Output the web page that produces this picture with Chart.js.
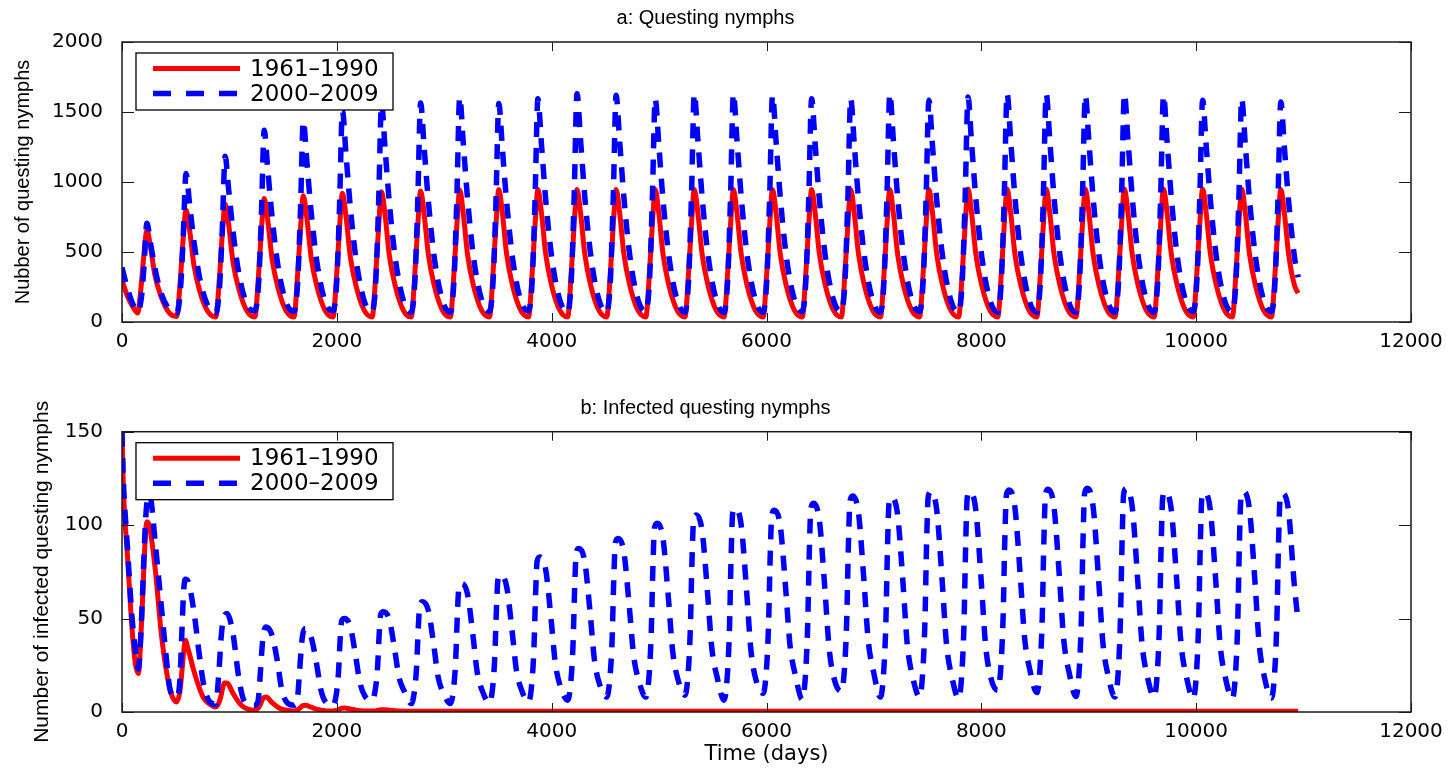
<!DOCTYPE html>
<html><head><meta charset="utf-8">
<script src="https://cdn.jsdelivr.net/npm/chart.js@4.4.1/dist/chart.umd.min.js"></script>
<style>
html,body{margin:0;padding:0;background:#fff;}
#wrapA{position:absolute;left:0;top:0;width:1454px;height:384px;}
#wrapB{position:absolute;left:0;top:384px;width:1454px;height:384px;}
canvas{display:block;}
</style></head><body>
<div id="wrapA"><canvas id="chartA"></canvas></div>
<div id="wrapB"><canvas id="chartB"></canvas></div>
<script>
// ---------- data ----------
const seriesNames = ['1961\u20131990', '2000\u20132009'];
const xTicks = [0, 2000, 4000, 6000, 8000, 10000, 12000];
const yTicksA = [0, 500, 1000, 1500, 2000];
const yTicksB = [0, 50, 100, 150];

// panel a: questing nymphs (day, value)
const dayA = [
  0, 50, 100,
  145,180,205,232,265,305,360,435,
  509,544,569,596,629,669,724,799,
  873,908,933,960,993,1033,1088,1163,
  1237,1272,1297,1324,1357,1397,1452,1527,
  1601,1636,1661,1688,1721,1761,1816,1891,
  1965,2000,2025,2052,2085,2125,2180,2255,
  2329,2364,2389,2416,2449,2489,2544,2619,
  2693,2728,2753,2780,2813,2853,2908,2983,
  3057,3092,3117,3144,3177,3217,3272,3347,
  3421,3456,3481,3508,3541,3581,3636,3711,
  3785,3820,3845,3872,3905,3945,4000,4075,
  4149,4184,4209,4236,4269,4309,4364,4439,
  4513,4548,4573,4600,4633,4673,4728,4803,
  4877,4912,4937,4964,4997,5037,5092,5167,
  5241,5276,5301,5328,5361,5401,5456,5531,
  5605,5640,5665,5692,5725,5765,5820,5895,
  5969,6004,6029,6056,6089,6129,6184,6259,
  6333,6368,6393,6420,6453,6493,6548,6623,
  6697,6732,6757,6784,6817,6857,6912,6987,
  7061,7096,7121,7148,7181,7221,7276,7351,
  7425,7460,7485,7512,7545,7585,7640,7715,
  7789,7824,7849,7876,7909,7949,8004,8079,
  8153,8188,8213,8240,8273,8313,8368,8443,
  8517,8552,8577,8604,8637,8677,8732,8807,
  8881,8916,8941,8968,9001,9041,9096,9171,
  9245,9280,9305,9332,9365,9405,9460,9535,
  9609,9644,9669,9696,9729,9769,9824,9899,
  9973,10008,10033,10060,10093,10133,10188,10263,
  10337,10372,10397,10424,10457,10497,10552,10627,
  10701,10736,10761,10788,10821,10861,10916,
  10950
];
const coolA = [
  300, 185, 110,
  64,270,490,657,540,340,190,70,
  40,310,590,800,660,410,220,75,
  36,325,620,843,695,430,235,78,
  36,345,645,883,728,450,245,80,
  36,350,660,902,743,460,250,82,
  36,358,672,919,757,468,254,83,
  36,362,680,930,766,474,257,84,
  36,365,683,935,770,477,258,84,
  36,368,688,942,776,480,259,85,
  36,370,690,947,780,482,260,85,
  36,370,690,947,780,482,260,85,
  36,370,690,947,780,482,260,85,
  36,370,690,947,780,482,260,85,
  36,370,690,947,780,482,260,85,
  36,370,690,947,780,482,260,85,
  36,370,690,947,780,482,260,85,
  36,370,690,947,780,482,260,85,
  36,370,690,947,780,482,260,85,
  36,370,690,947,780,482,260,85,
  36,370,690,947,780,482,260,85,
  36,370,690,947,780,482,260,85,
  36,371,692,950,782,483,261,85,
  36,371,692,950,782,483,261,85,
  36,371,692,950,782,483,261,85,
  36,371,692,950,782,483,261,85,
  36,371,692,950,782,483,261,85,
  36,371,692,950,782,483,261,85,
  36,371,692,950,782,483,261,85,
  36,371,692,950,782,483,261,85,
  36,370,690,947,780,482,260,
  206
];
const warmA = [
  390, 240, 130,
  76,170,400,705,565,390,215,95,
  64,230,590,1061,845,580,310,115,
  64,250,650,1184,945,650,345,125,
  80,280,750,1369,1090,750,400,140,
  76,290,785,1436,1145,785,420,145,
  80,300,820,1510,1200,825,440,150,
  76,310,850,1560,1240,850,455,155,
  70,310,850,1564,1245,855,455,155,
  70,318,875,1607,1280,880,465,160,
  76,310,850,1560,1240,855,455,155,
  80,315,870,1595,1270,870,465,158,
  70,322,885,1631,1300,890,475,160,
  70,320,880,1619,1290,885,470,160,
  75,315,870,1595,1270,870,465,158,
  70,322,885,1631,1300,890,475,160,
  70,322,885,1631,1300,890,475,160,
  70,320,880,1619,1290,885,470,160,
  75,315,870,1595,1270,870,465,158,
  75,315,870,1595,1270,870,465,158,
  70,322,885,1631,1300,890,475,160,
  75,314,865,1584,1262,866,463,157,
  70,318,875,1607,1280,880,468,159,
  70,322,885,1631,1300,890,475,160,
  70,322,885,1631,1300,890,475,160,
  70,320,880,1619,1290,885,470,160,
  70,322,885,1631,1300,890,475,160,
  70,320,880,1619,1290,885,470,160,
  75,314,865,1584,1262,866,463,157,
  75,315,870,1595,1270,870,465,158,
  75,312,860,1571,1250,860,460,
  320
];

// panel b: infected questing nymphs (day, value)
const dayB = [
  0, 12, 25, 46, 93, 124,
  152,182,202,217,232,257,312,362,402,452,
  509,539,559,574,589,614,669,719,759,809,
  873,903,923,938,953,978,1033,1083,1123,1173,
  1237,1267,1287,1302,1317,1342,1397,1447,1487,1537,
  1601,1631,1651,1666,1681,1706,1761,1811,1851,1901,
  1965,1995,2015,2030,2045,2070,2125,2175,2215,2265,
  2329,2359,2379,2394,2409,2434,2489,2539,2579,2629,
  2693,2723,2743,2758,2773,2798,2853,2903,2943,2993,
  3057,3087,3107,3122,3137,3162,3217,3267,3307,3357,
  3421,3451,3471,3486,3501,3526,3581,3631,3671,3721,
  3785,3815,3835,3850,3865,3890,3945,3995,4035,4085,
  4149,4179,4199,4214,4229,4254,4309,4359,4399,4449,
  4513,4543,4563,4578,4593,4618,4673,4723,4763,4813,
  4877,4907,4927,4942,4957,4982,5037,5087,5127,5177,
  5241,5271,5291,5306,5321,5346,5401,5451,5491,5541,
  5605,5635,5655,5670,5685,5710,5765,5815,5855,5905,
  5969,5999,6019,6034,6049,6074,6129,6179,6219,6269,
  6333,6363,6383,6398,6413,6438,6493,6543,6583,6633,
  6697,6727,6747,6762,6777,6802,6857,6907,6947,6997,
  7061,7091,7111,7126,7141,7166,7221,7271,7311,7361,
  7425,7455,7475,7490,7505,7530,7585,7635,7675,7725,
  7789,7819,7839,7854,7869,7894,7949,7999,8039,8089,
  8153,8183,8203,8218,8233,8258,8313,8363,8403,8453,
  8517,8547,8567,8582,8597,8622,8677,8727,8767,8817,
  8881,8911,8931,8946,8961,8986,9041,9091,9131,9181,
  9245,9275,9295,9310,9325,9350,9405,9455,9495,9545,
  9609,9639,9659,9674,9689,9714,9769,9819,9859,9909,
  9973,10003,10023,10038,10053,10078,10133,10183,10223,10273,
  10337,10367,10387,10402,10417,10442,10497,10547,10587,10637,
  10701,10731,10751,10766,10781,10806,10861,10911,
  10950
];
const coolB = [
  150, 122, 105, 88, 45, 26,
  20.6,48,75,93.8,101.8,99,75,44,26,11,
  5.4,11,22.5,32,38.4,34,22,13,7.5,4.5,
  2.7,5,9,13,15.5,15.5,10,5.5,3,1.5,
  0.9,2,4,6,7.5,8,5,2.7,1.5,0.9,
  0.6,1,1.8,2.6,3.3,3.6,2.6,1.5,0.9,0.6,
  0.5,0.8,1.2,1.6,2.0,2.1,1.6,1.0,0.7,0.5,
  0.5,0.6,0.8,1.0,1.2,1.2,1.0,0.7,0.5,0.45,
  0.45,0.45,0.45,0.45,0.45,0.45,0.45,0.45,0.45,0.45,
  0.45,0.45,0.45,0.45,0.45,0.45,0.45,0.45,0.45,0.45,
  0.45,0.45,0.45,0.45,0.45,0.45,0.45,0.45,0.45,0.45,
  0.45,0.45,0.45,0.45,0.45,0.45,0.45,0.45,0.45,0.45,
  0.45,0.45,0.45,0.45,0.45,0.45,0.45,0.45,0.45,0.45,
  0.45,0.45,0.45,0.45,0.45,0.45,0.45,0.45,0.45,0.45,
  0.4,0.4,0.4,0.4,0.4,0.4,0.4,0.4,0.4,0.4,
  0.4,0.4,0.4,0.4,0.4,0.4,0.4,0.4,0.4,0.4,
  0.4,0.4,0.4,0.4,0.4,0.4,0.4,0.4,0.4,0.4,
  0.4,0.4,0.4,0.4,0.4,0.4,0.4,0.4,0.4,0.4,
  0.4,0.4,0.4,0.4,0.4,0.4,0.4,0.4,0.4,0.4,
  0.4,0.4,0.4,0.4,0.4,0.4,0.4,0.4,0.4,0.4,
  0.4,0.4,0.4,0.4,0.4,0.4,0.4,0.4,0.4,0.4,
  0.4,0.4,0.4,0.4,0.4,0.4,0.4,0.4,0.4,0.4,
  0.4,0.4,0.4,0.4,0.4,0.4,0.4,0.4,0.4,0.4,
  0.4,0.4,0.4,0.4,0.4,0.4,0.4,0.4,0.4,0.4,
  0.4,0.4,0.4,0.4,0.4,0.4,0.4,0.4,0.4,0.4,
  0.4,0.4,0.4,0.4,0.4,0.4,0.4,0.4,0.4,0.4,
  0.4,0.4,0.4,0.4,0.4,0.4,0.4,0.4,0.4,0.4,
  0.4,0.4,0.4,0.4,0.4,0.4,0.4,0.4,0.4,0.4,
  0.4,0.4,0.4,0.4,0.4,0.4,0.4,0.4,0.4,0.4,
  0.4,0.4,0.4,0.4,0.4,0.4,0.4,0.4,0.4,0.4,
  0.4,0.4,0.4,0.4,0.4,0.4,0.4,0.4,
  0.4
];
const warmB = [
  150, 125, 110, 92, 51, 33,
  23,50,80,100,112,116,89,59,35,11,
  8,17,45,65,71,70,54,31,15,6,
  4,22,40,48,51.5,52.7,42,20,8,4,
  3.6,6,20,33,42,45.5,41,27,12,5,
  3.6,6,20,32,41,44.7,40,26,12,5,
  3.6,9.4,20.7,37.9,48.7,50,45.8,30,15.7,8.2,
  6.3,12.3,23.8,41.3,52.3,53.6,49.3,33.2,18.6,11,
  4.5,11.4,24.6,44.8,57.5,59,54.1,35.5,18.7,9.9,
  4.5,12.6,28.2,52.0,67.1,68.8,63.0,41.0,21.3,10.9,
  4.8,13.4,30.1,55.4,71.4,73.3,67.1,43.7,22.7,11.6,
  5.4,15.2,34.0,62.7,80.9,83,76.0,49.5,25.7,13.1,
  6.3,16.5,36.3,66.3,85.3,87.5,80.2,52.4,27.5,14.3,
  8,18.7,39.3,70.7,90.6,92.9,85.3,56.2,30.2,16.4,
  8,19.7,42.3,76.7,98.5,101,92.6,60.8,32.3,17.2,
  9,21.1,44.6,80.2,102.8,105.4,96.7,63.8,34.2,18.5,
  6.3,19.2,44.2,82.2,106.2,109,99.8,64.6,33.1,16.5,
  10,22.3,46.2,82.4,105.4,108,99.2,65.7,35.6,19.7,
  6.7,19.9,45.4,84.3,108.9,111.7,102.2,66.3,34.1,17.1,
  11,24.2,49.6,88.3,112.8,115.6,106.2,70.4,38.3,21.4,
  8,21.5,47.4,87.0,112.0,114.9,105.3,68.7,35.9,18.6,
  8,21.8,48.6,89.2,114.9,117.9,108.0,70.4,36.7,18.9,
  7.2,21.1,48.0,89.0,114.9,117.9,107.9,70.1,36.1,18.2,
  11.6,25.1,51.2,90.8,115.9,118.8,109.2,72.5,39.6,22.2,
  10.4,24.1,50.5,90.8,116.3,119.2,109.4,72.2,38.8,21.2,
  8.3,22.3,49.4,90.6,116.7,119.7,109.7,71.6,37.4,19.3,
  8,22.1,49.2,90.5,116.7,119.7,109.6,71.4,37.2,19.1,
  8,21.8,48.6,89.2,114.9,117.9,108.0,70.4,36.7,18.9,
  7.2,21.1,47.9,88.6,114.4,117.4,107.5,69.8,36.0,18.1,
  7.2,21.1,48.0,89.0,114.9,117.9,107.9,70.1,36.1,18.2,
  7.5,21.3,47.9,88.4,114.0,117,107.1,69.7,
  47.9
];

// ---------- fonts ----------
const labelFamily = "'Liberation Sans', Arial, sans-serif";
const tickFamily = "'DejaVu Sans', Verdana, sans-serif";

// ---------- plugins ----------
const frameTicks = {
  id: 'frameTicks',
  afterDatasetsDraw(chart) {
    const {ctx, chartArea: a} = chart;
    const x = chart.scales.x, y = chart.scales.y;
    ctx.save();
    ctx.strokeStyle = '#1a1a1a';
    ctx.lineWidth = 1;
    ctx.setLineDash([]);
    ctx.beginPath();
    x.ticks.forEach(t => {
      const px = Math.round(x.getPixelForValue(t.value)) + 0.5;
      ctx.moveTo(px, a.bottom); ctx.lineTo(px, a.bottom - 9);
      ctx.moveTo(px, a.top); ctx.lineTo(px, a.top + 9);
    });
    y.ticks.forEach(t => {
      const py = Math.round(y.getPixelForValue(t.value)) + 0.5;
      ctx.moveTo(a.left, py); ctx.lineTo(a.left + 12, py);
      ctx.moveTo(a.right, py); ctx.lineTo(a.right - 12, py);
    });
    ctx.stroke();
    ctx.lineWidth = 1.5;
    ctx.strokeRect(a.left, a.top, a.right - a.left, a.bottom - a.top);
    ctx.restore();
  }
};
const boxLegend = {
  id: 'boxLegend',
  afterDraw(chart) {
    const {ctx, chartArea: a} = chart;
    const bx = a.left + 14, by = a.top + 11, bw = 257, bh = 57;
    ctx.save();
    ctx.fillStyle = '#fff';
    ctx.fillRect(bx, by, bw, bh);
    ctx.strokeStyle = '#000';
    ctx.lineWidth = 1.3;
    ctx.setLineDash([]);
    ctx.strokeRect(bx, by, bw, bh);
    chart.data.datasets.forEach((ds, i) => {
      const yy = by + 15.6 + i * 25;
      ctx.strokeStyle = ds.borderColor;
      ctx.lineWidth = ds.borderWidth;
      ctx.lineCap = 'butt';
      ctx.setLineDash(ds.borderDash ? [18, 15] : []);
      ctx.beginPath();
      ctx.moveTo(bx + 17, yy);
      ctx.lineTo(bx + (ds.borderDash ? 101 : 104), yy);
      ctx.stroke();
      ctx.setLineDash([]);
      ctx.fillStyle = '#000';
      ctx.font = '23px ' + tickFamily;
      ctx.textBaseline = 'middle';
      ctx.textAlign = 'left';
      ctx.fillText(ds.label, bx + 114, yy + 1);
    });
    ctx.restore();
  }
};

function pts(days, vals) { return days.map((d, i) => ({x: d, y: vals[i]})); }

function makeChart(id, cfg) {
  const titleSize = 20;
  const titleLH = titleSize * 1.2;
  const tTop = cfg.titleCenter - titleLH / 2;
  const tBottom = cfg.areaTop - tTop - titleLH;
  const ySize = cfg.ySize;
  const yLH = ySize * 1.2;
  return new Chart(document.getElementById(id), {
    type: 'line',
    data: {
      datasets: [
        {label: seriesNames[0], data: pts(cfg.days, cfg.cool), borderColor: '#ff0000', borderWidth: 5,
         pointRadius: 0, cubicInterpolationMode: 'monotone', order: 1, clip: 0, fill: false, borderJoinStyle: 'round'},
        {label: seriesNames[1], data: pts(cfg.days, cfg.warm), borderColor: '#0000ff', borderWidth: 5.5,
         borderDash: [15, 11], pointRadius: 0, cubicInterpolationMode: 'monotone', order: 0, clip: 0, fill: false, borderCapStyle: 'butt'}
      ]
    },
    options: {
      responsive: true, maintainAspectRatio: false, animation: false, devicePixelRatio: 1,
      layout: {padding: {left: 0, right: 43, top: 0, bottom: 0}},
      plugins: {
        legend: {display: false},
        tooltip: {enabled: false},
        title: {display: true, text: cfg.title, color: '#000',
                font: {family: labelFamily, size: titleSize, weight: 'normal'},
                padding: {top: tTop, bottom: tBottom}}
      },
      scales: {
        x: {
          type: 'linear', min: 0, max: 12000,
          grid: {display: false}, border: {display: false},
          ticks: {color: '#000', font: {family: tickFamily, size: 20}, padding: 0, maxRotation: 0, autoSkip: false,
                  callback: v => String(v)},
          afterBuildTicks: s => { s.ticks = xTicks.map(v => ({value: v})); },
          afterFit: s => { s.height = cfg.xHeight; },
          title: cfg.xTitle ? {display: true, text: cfg.xTitle, color: '#000',
                 font: {family: tickFamily, size: 21, weight: 'normal'}, padding: {top: 0, bottom: 1}} : {display: false}
        },
        y: {
          min: 0, max: cfg.ymax,
          grid: {display: false}, border: {display: false},
          ticks: {color: '#000', font: {family: tickFamily, size: 20}, padding: 11, callback: v => String(v)},
          afterBuildTicks: s => { s.ticks = cfg.yTicks.map(v => ({value: v})); },
          afterFit: s => { s.width = 122; },
          title: {display: true, text: cfg.yTitle, color: '#000',
                  font: {family: labelFamily, size: ySize, weight: 'normal'},
                  padding: {top: cfg.yCenter - yLH / 2, bottom: 0}}
        }
      }
    },
    plugins: [frameTicks, boxLegend]
  });
}

makeChart('chartA', {
  title: 'a: Questing nymphs', days: dayA, cool: coolA, warm: warmA,
  ymax: 2000, yTicks: yTicksA, yTitle: 'Nubber of questing nymphs',
  titleCenter: 18, areaTop: 42, xHeight: 62, yCenter: 23, ySize: 20
});
makeChart('chartB', {
  title: 'b: Infected questing nymphs', days: dayB, cool: coolB, warm: warmB,
  ymax: 150, yTicks: yTicksB, yTitle: 'Number of infected questing nymphs',
  titleCenter: 24, areaTop: 47.7, xHeight: 56, yCenter: 42, ySize: 21,
  xTitle: 'Time (days)'
});
</script>
</body></html>
